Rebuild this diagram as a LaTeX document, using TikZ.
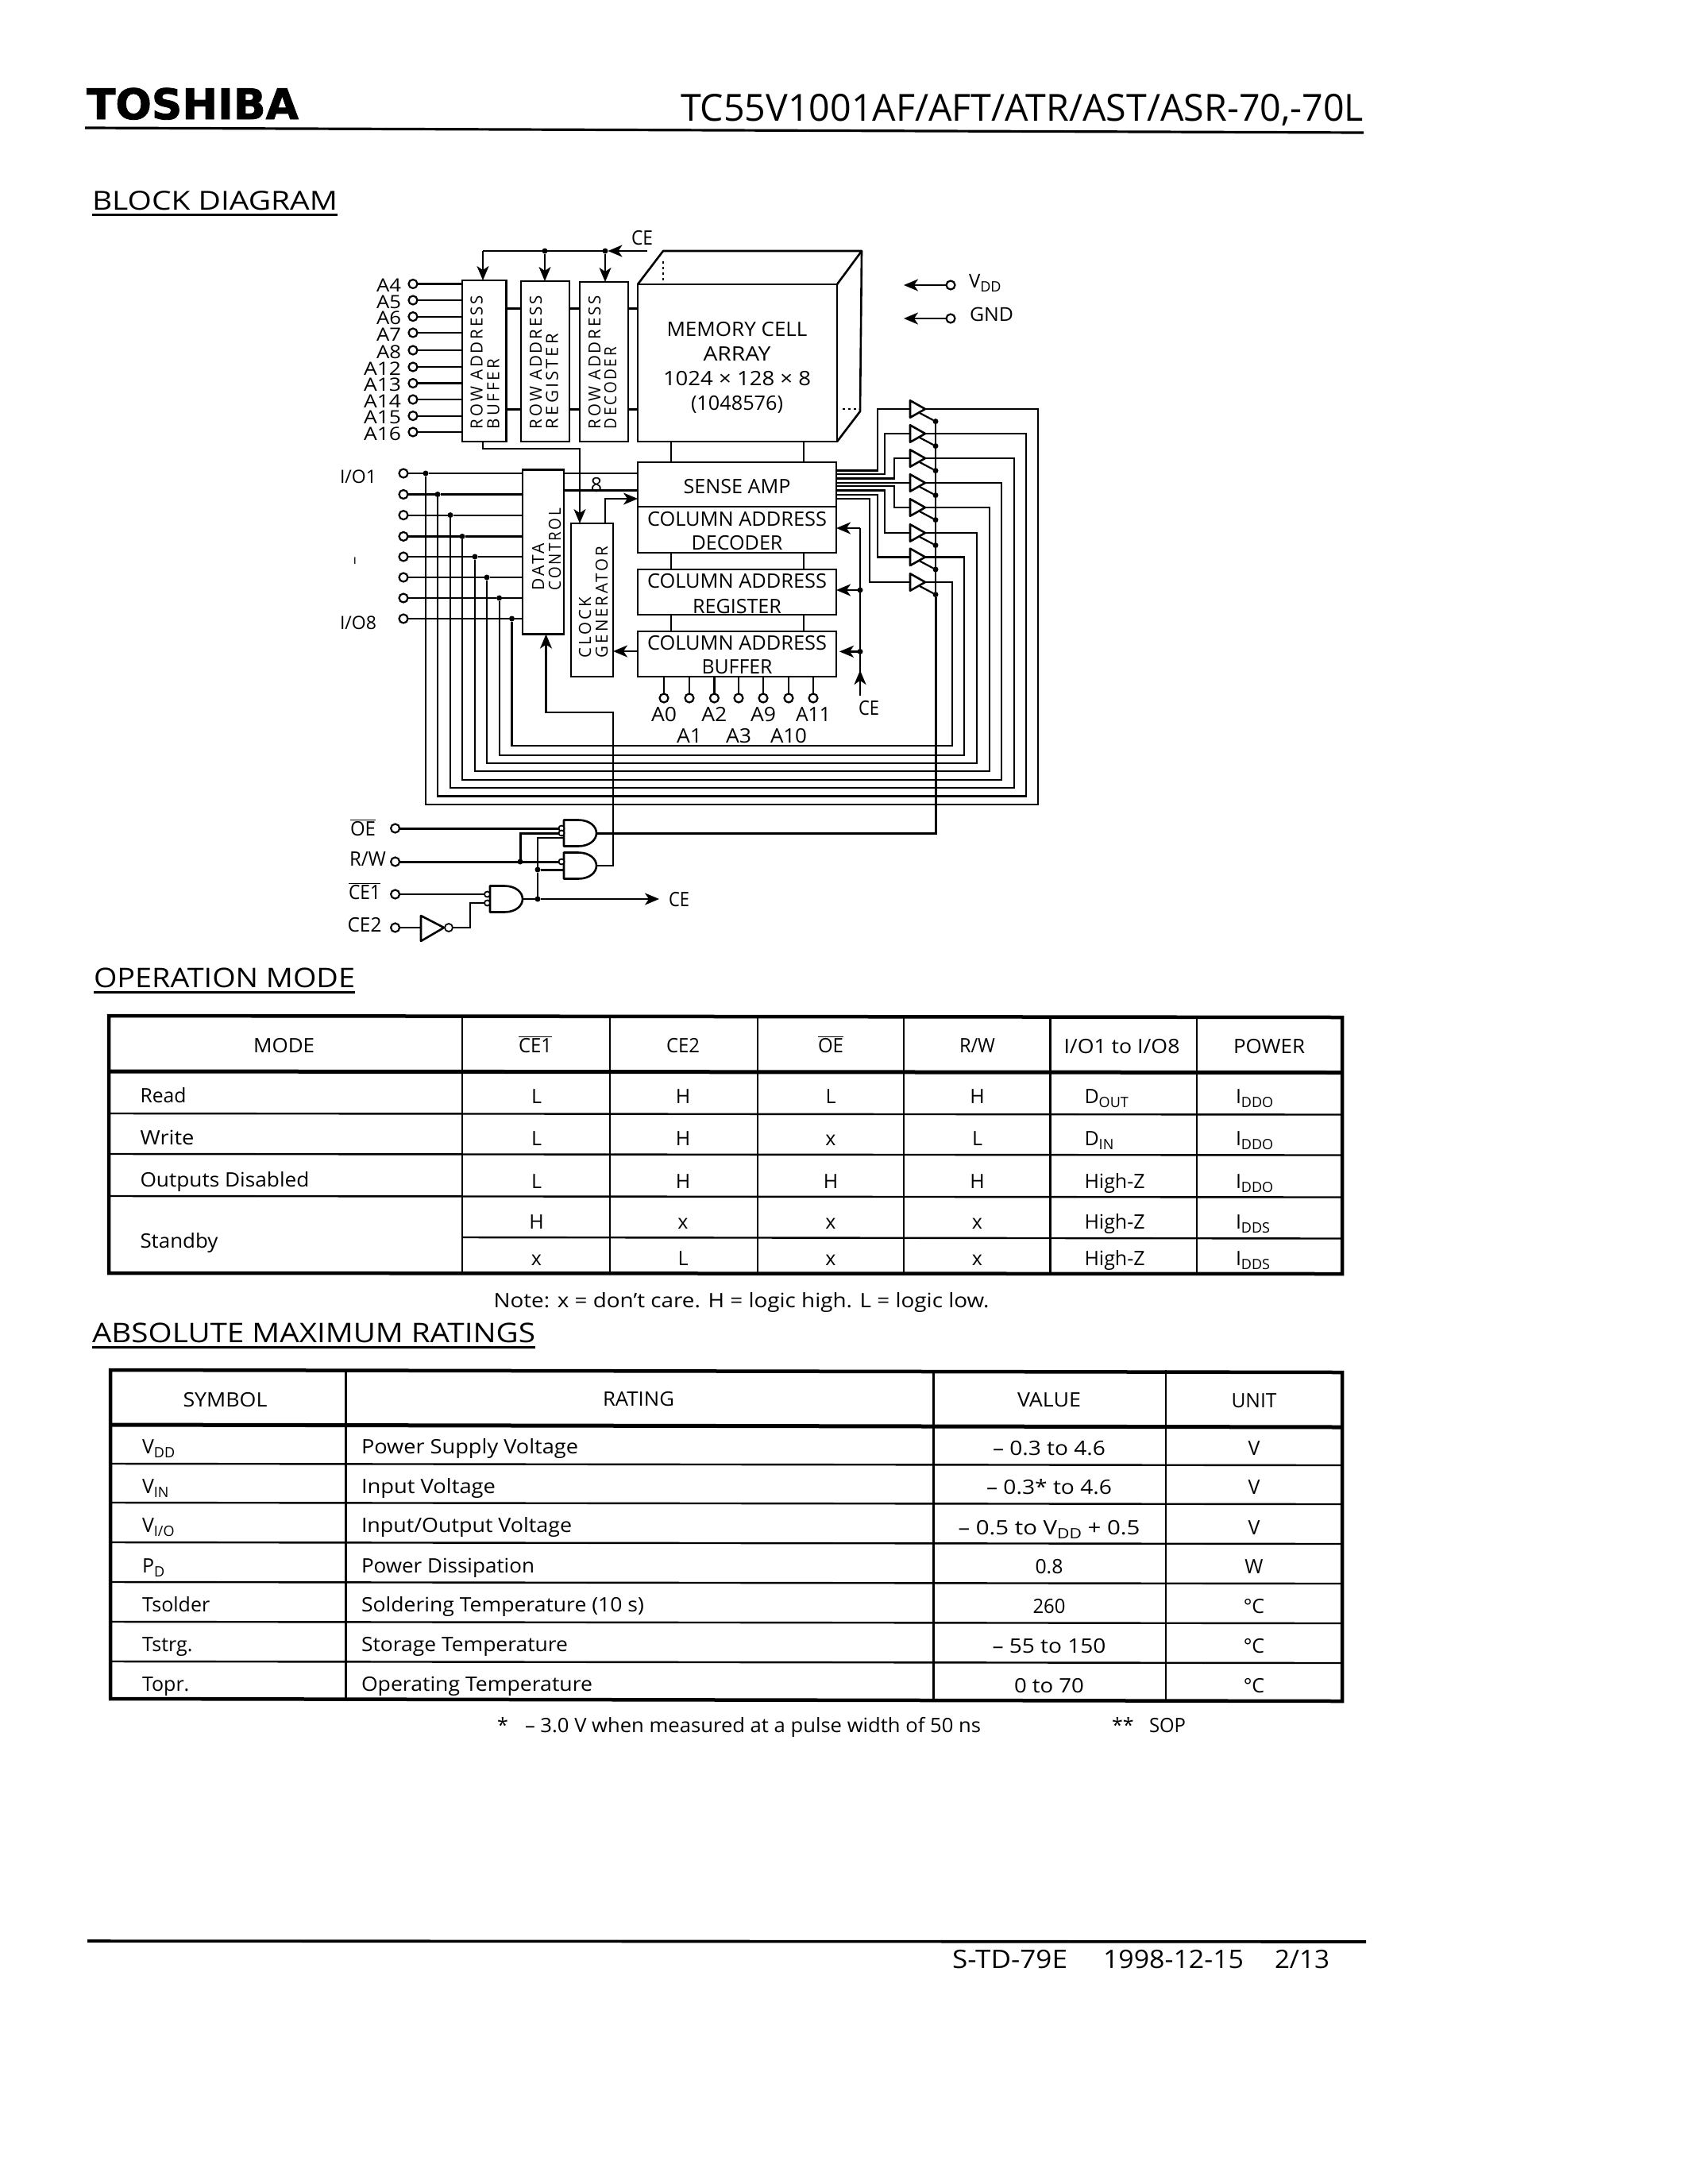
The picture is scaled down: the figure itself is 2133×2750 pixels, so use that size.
\documentclass[tikz,border=0pt]{standalone}
\usepackage{fontspec}
\usepackage{graphicx}
\usetikzlibrary{arrows.meta}
\setmainfont{Open Sans}
\newfontfamily\logofont{DejaVu Sans}[BoldFont={* Bold},BoldFeatures={FakeBold=1.6}]
\newcounter{lblc}
\newcommand{\fitw}[2]{\resizebox{#1pt}{\height}{#2}}
\newcommand{\fsz}[1]{\fontsize{#1}{#1}\selectfont}
% \txtn[options]{x}{baseline y}{text}
\newcommand{\txtn}[4][]{\stepcounter{lblc}\node[txtbase,#1] (lbl\arabic{lblc}) at (#2,#3) {#4};}
\newcommand{\dotn}[3]{\node[jdot] (#1) at (#2,#3) {};}
\newcommand{\bxn}[5]{\node[blockst,minimum width={#4-#2},minimum height={#5-#3}] (#1) at ({(#2+#4)/2},{(#3+#5)/2}) {};}
\newcommand{\subt}[1]{\raisebox{-5pt}{\fsz{18}#1}}
\newcommand{\ovl}[1]{$\overline{\mbox{#1}}$}
% \andg{name}{x left}{y centre}
\newcommand{\andg}[3]{%
  \draw[gatest] (#2,{#3-16.5}) -- ({#2+18},{#3-16.5}) .. controls ({#2+33},{#3-16.5}) and ({#2+41},{#3-8}) .. ({#2+41},#3)
    .. controls ({#2+41},{#3+8}) and ({#2+33},{#3+16.5}) .. ({#2+18},{#3+16.5}) -- (#2,{#3+16.5}) -- cycle;
  \coordinate (#1o) at ({#2+41},#3);}
\tikzset{
  x=1pt,y=-1pt,
  txtbase/.style={inner sep=0,outer sep=0,anchor=base,font=\fsz{25}},
  lft/.style={anchor=base west},
  rgt/.style={anchor=base east},
  vert/.style={rotate=90,anchor=base west,font={\fsz{21}\addfontfeature{LetterSpace=14}}},
  blockst/.style={draw,line width=2.6pt,inner sep=0,outer sep=0},
  wire/.style={line width=2.2pt},
  hwire/.style={line width=3pt},
  arr/.style={-{Stealth[length=18pt,width=15pt,inset=5pt]}},
  pinst/.style={circle,draw,fill=white,line width=2.2pt,minimum size=11pt,inner sep=0,outer sep=0},
  bubst/.style={circle,draw,fill=white,line width=1.8pt,minimum size=7pt,inner sep=0,outer sep=0},
  jdot/.style={circle,fill=black,minimum size=7pt,inner sep=0,outer sep=0},
  gatest/.style={line width=2.6pt,fill=white,line join=round},
  tblout/.style={line width=4.5pt,line cap=rect},
  tblhdr/.style={line width=5pt},
  tblin/.style={line width=2.4pt},
}
\begin{document}
\begin{tikzpicture}
\useasboundingbox (0,0) rectangle (2133,2750);
\fill[white] (0,0) rectangle (2133,2750);

% ---- page header
\txtn[lft,font={\logofont\bfseries\fsz{53}}]{109}{150}{\fitw{267}{TOSHIBA}}
\txtn[lft,font=\fsz{47}]{857}{152}{\fitw{860}{TC55V1001AF/AFT/ATR/AST/ASR-70,-70L}}
\draw[line width=3.2pt] (107,161) -- (1717,167);
\txtn[lft,font=\fsz{33}]{116}{264}{\fitw{309}{BLOCK DIAGRAM}}
\draw[line width=3pt] (116,270) -- (425,270);

% ---- row blocks
\bxn{rab}{582}{353}{637.5}{556}
\bxn{rar}{656}{354}{717}{556}
\bxn{rad}{730}{355}{791}{556}
\txtn[vert]{607.6}{540}{\fitw{168}{ROW ADDRESS}}
\txtn[vert]{628.6}{540}{\fitw{88}{BUFFER}}
\txtn[vert]{682}{540}{\fitw{168}{ROW ADDRESS}}
\txtn[vert]{702.7}{540}{\fitw{120}{REGISTER}}
\txtn[vert]{756}{540}{\fitw{168}{ROW ADDRESS}}
\txtn[vert]{776}{540}{\fitw{103}{DECODER}}

% ---- memory cell array
\bxn{mem}{803}{358}{1054}{556}
\coordinate (mb1) at (835,316);
\coordinate (mb2) at (1085,316);
\coordinate (mb3) at (1083,518);
\draw[line width=2.6pt,line join=round] (mem.north west) -- (mb1) -- (mb2) -- (mem.north east);
\draw[line width=2.6pt,line join=round] (mb2) -- (mb3) -- (mem.south east);
\draw[line width=2.4pt,dash pattern=on 3pt off 4pt] (835,329) -- (835,353);
\draw[line width=2.4pt,dash pattern=on 3pt off 4pt] (1061,515) -- (1079,515);
\txtn{928}{423}{\fitw{177}{MEMORY CELL}}
\txtn{928}{454}{\fitw{85}{ARRAY}}
\txtn{928}{485}{\fitw{186}{1024 × 128 × 8}}
\txtn{928}{516}{\fitw{116}{(1048576)}}

% ---- column blocks
\bxn{sa}{803}{582}{1053}{638}
\bxn{cad}{803}{638}{1053}{696}
\bxn{car}{803}{717}{1053}{774}
\bxn{cab}{803}{795}{1053}{852}
\txtn{928}{621}{\fitw{135}{SENSE AMP}}
\txtn{928}{662}{\fitw{226}{COLUMN ADDRESS}}
\txtn{928}{692.5}{\fitw{115}{DECODER}}
\txtn{928}{740}{\fitw{226}{COLUMN ADDRESS}}
\txtn{928}{772}{\fitw{112}{REGISTER}}
\txtn{928}{818}{\fitw{226}{COLUMN ADDRESS}}
\txtn{928}{848}{\fitw{89}{BUFFER}}
\foreach \x in {845,1012} {
  \draw[wire] (\x,556) -- (\x,582);
  \draw[wire] (\x,696) -- (\x,717);
  \draw[wire] (\x,774) -- (\x,795);
}

% ---- links between row blocks
\foreach \y in {388,515} {
  \draw[hwire] (637.5,\y) -- (656,\y);
  \draw[hwire] (717,\y) -- (730,\y);
  \draw[hwire] (791,\y) -- (803,\y);
}

% ---- CE bus on top
\txtn[lft]{795}{308}{\fitw{27}{CE}}
\coordinate (cetop) at (815,316);
\dotn{cej2}{762}{316}
\dotn{cej1}{686}{316}
\coordinate (cetl) at (608,316);
\draw[wire,arr] (cetop) -- (cej2);
\draw[wire] (cej2) -- (cetl);
\draw[wire,arr] (cetl) -- (cetl |- rab.north);
\draw[wire,arr] (cej1) -- (cej1 |- rar.north);
\draw[wire,arr] (cej2) -- (cej2 |- rad.north);

% ---- row address pins
\foreach \n/\y/\w in {A4/357.5/31,A5/378/31,A6/398.6/31,A7/419/31,A8/441/31,A12/462/47,A13/482.5/47,A14/503/47,A15/523.6/47,A16/544/47} {
  \node[pinst] (p\n) at (520,\y) {};
  \draw[wire] (p\n) -- (p\n -| rab.west);
  \txtn[rgt,font=\fsz{23}]{505}{\y+10}{\fitw{\w}{\n}}
}

% ---- data control and clock generator
\bxn{dc}{658}{591.4}{710}{798.6}
\bxn{cg}{719}{659}{772}{852}
\txtn[vert]{685}{743}{\fitw{59}{DATA}}
\txtn[vert]{706}{743}{\fitw{103}{CONTROL}}
\txtn[vert]{744}{828}{\fitw{76}{CLOCK}}
\txtn[vert]{765}{828}{\fitw{140}{GENERATOR}}

\coordinate (rabo) at (608,556);
\draw[wire,arr] (rabo) -- (608,565) -- (730,565) -- (730,659);
\draw[wire,arr] (762,659) -- (762,628) -- (803,628);
\draw[wire,arr] (cab.west |- 0,820) -- (cg.east |- 0,820);
\draw[wire] (710,596) -- (803,596);
\draw[hwire] (710,617.5) -- (803,617.5);
\txtn{751}{619}{8}

% ---- tri-state output buffers, sense amp fan-out, long return wires
\foreach \i/\ys/\xm/\yt/\xr/\yb/\xl/\yio in {
  1/592.5/1105/515/1307/1013/536/596,
  2/597/1114/546/1292/1002.5/551/622.5,
  3/602.5/1126/577/1277/992/567/648.6,
  4/608/1126/608/1261/982/582/675.4,
  5/612/1126/639/1246/971/598/701,
  6/617.5/1114/671/1230/961/613/727,
  7/623/1105/701.4/1214/951/628.6/753,
  8/628/1095/733/1199/939/644.5/779} {
  \coordinate (ti\i) at (1146,\yt);
  \coordinate (to\i) at (1165,\yt);
  \coordinate (sp\i) at (1053,\ys);
  \draw[wire] (sp\i) -- (\xm,\ys) -- (\xm,\yt) -- (ti\i);
  \draw[gatest,fill=white] (1146,{\yt-10.7}) -- (to\i) -- (1146,{\yt+10.7}) -- cycle;
  \dotn{dio\i}{\xl}{\yio}
  \node[pinst] (pio\i) at (508,\yio) {};
  \draw[wire] (pio\i) -- (dio\i) -- (dio\i -| dc.west);
  \draw[wire] (to\i) -- (\xr,\yt) -- (\xr,\yb) -- (\xl,\yb) -- (dio\i);
  \coordinate (te\i) at (1158,{\yt+5});
  \dotn{den\i}{1178}{\yt+15.6}
  \draw[wire] (te\i) -- (den\i);
}
\txtn[lft,font=\fsz{23}]{428}{608.6}{\fitw{46}{I/O1}}
\txtn[lft,font=\fsz{23}]{428}{792}{\fitw{46}{I/O8}}
\txtn[font=\fsz{16}]{447}{710}{ı}

% ---- CE branch for column blocks
\coordinate (cebot) at (1083,876);
\coordinate (cecol) at (1083,665);
\dotn{cecr}{1083}{743}
\dotn{cecb}{1083}{820.4}
\draw[wire,arr] (cebot) -- (1083,844);
\draw[wire] (cebot) -- (cecol);
\draw[wire,arr] (cecol) -- (cecol -| cad.east);
\draw[wire,arr] (cecr) -- (cecr -| car.east);
\draw[wire,arr] (cecb) -- ++(-26,0);
\txtn[lft]{1081}{900}{\fitw{26}{CE}}

% ---- column address pins
\foreach \n/\x/\b/\w in {A0/836/908/32,A1/868/935/32,A2/899.4/908/32,A3/930/935/32,A9/961/908/32,A10/993/935/46,A11/1024/908/44} {
  \node[pinst] (p\n) at (\x,879) {};
  \draw[wire] (p\n) -- (p\n |- cab.south);
  \txtn{\x}{\b}{\fitw{\w}{\n}}
}

% ---- VDD / GND
\node[pinst] (pvdd) at (1197,359) {};
\node[pinst] (pgnd) at (1197,401) {};
\coordinate (avdd) at (1138,359);
\coordinate (agnd) at (1138,401);
\draw[wire,arr] (pvdd) -- (avdd);
\draw[wire,arr] (pgnd) -- (agnd);
\txtn[lft,font=\fsz{24}]{1220}{362}{V\subt{DD}}
\txtn[lft,font=\fsz{24}]{1221}{404}{\fitw{55}{GND}}

% ---- control logic
\andg{g1}{710}{1049}
\andg{g2}{710}{1090}
\andg{g3}{617}{1132}
\node[pinst] (poe) at (497.6,1043) {};
\node[pinst] (prw) at (497.6,1085) {};
\node[pinst] (pce1) at (497.6,1126) {};
\node[pinst] (pce2) at (497.6,1168) {};
\txtn{457}{1052}{\fitw{32}{\ovl{OE}}}
\txtn{463}{1090}{\fitw{46}{R/W}}
\txtn{459}{1132}{\fitw{40}{\ovl{CE1}}}
\txtn{459}{1173}{\fitw{43}{CE2}}
\node[bubst] (b1a) at (707,1043) {};
\node[bubst] (b1b) at (707,1049) {};
\node[bubst] (b2a) at (707,1085) {};
\node[bubst] (b3a) at (613.5,1126) {};
\node[bubst] (b3b) at (613.5,1137) {};
\draw[hwire] (poe) -- (b1a);
\draw[hwire] (prw) -- (b2a);
\dotn{jrw}{655}{1085}
\draw[hwire] (jrw) -- (655,1049) -- (b1b);
\dotn{jce}{677}{1132}
\dotn{jce2}{677}{1095}
\draw[wire] (pce1) -- (b3a);
\draw[wire] (jce) -- (jce2) -- (677,1055) -- (710,1055);
\draw[hwire] (jce2) -- (710,1095);
\draw[wire] (g3o) -- (jce);
\coordinate (ceout) at (830,1132);
\draw[wire,arr] (jce) -- (ceout);
\txtn[lft]{842}{1141}{\fitw{26}{CE}}
\coordinate (invi) at (530,1168);
\coordinate (invo) at (559,1168);
\draw[gatest] (530,1153) -- (invo) -- (530,1185) -- cycle;
\node[bubst,minimum size=10pt] (binv) at (565,1168) {};
\draw[wire] (pce2) -- (invi);
\draw[wire] (binv) -- (592,1168) -- (592,1137) -- (b3b);
% gate outputs
\draw[hwire] (g1o) -- (1178,1049) -- (den8);
\draw[wire] (den1) -- (den8);
\draw[wire] (g2o) -- (772,1090) -- (772,897) -- (687.5,897) -- (687.5,830);
\draw[wire,arr] (687.5,830) -- (dc.south -| 687.5,0);

% ---- OPERATION MODE
\txtn[lft,font=\fsz{34}]{118}{1243}{\fitw{329}{OPERATION MODE}}
\draw[line width=3pt] (118,1249) -- (447,1249);
\coordinate (t1nw) at (137,1279);
\coordinate (t1se) at (1690,1604);
\foreach \y in {1402,1453,1506} {\draw[tblin] (137,\y) -- (1690,\y+1.5);}
\draw[tblhdr] (137,1349) -- (1690,1350.5);
\draw[tblin] (582,1558) -- (1690,1559.5);
\foreach \x in {582,768,954,1138,1322.6,1507} {\draw[tblin] (\x,1279) -- (\x,1604);}
\draw[tblout] (137,1279) -- (1690,1281) -- (1690,1604) -- (137,1603) -- cycle;

\foreach \x/\t/\w in {357.6/MODE/77,674/\ovl{CE1}/42,860/CE2/42,1046/\ovl{OE}/32,1230.5/{R/W}/45} {\txtn{\x}{1325}{\fitw{\w}{\t}}}
\txtn{1412.5}{1326}{\fitw{146}{I/O1 to I/O8}}
\txtn{1598}{1326}{\fitw{90}{POWER}}
\txtn[lft]{176.5}{1388}{\fitw{58}{Read}}
\txtn[lft]{176.5}{1441}{\fitw{68}{Write}}
\txtn[lft]{176.5}{1494}{\fitw{213}{Outputs Disabled}}
\txtn[lft]{176.5}{1571}{\fitw{98}{Standby}}
\foreach \y/\a/\b/\c/\d/\e/\f in {
  1389/L/H/L/H/D\subt{OUT}/I\subt{DDO},
  1442/L/H/x/L/D\subt{IN}/I\subt{DDO},
  1496/L/H/H/H/High-Z/I\subt{DDO},
  1547/H/x/x/x/High-Z/I\subt{DDS},
  1593/x/L/x/x/High-Z/I\subt{DDS}} {
  \txtn{675.5}{\y}{\a}
  \txtn{860}{\y}{\b}
  \txtn{1046}{\y}{\c}
  \txtn{1230.5}{\y}{\d}
  \txtn[lft]{1365.5}{\y}{\e}
  \txtn[lft]{1556}{\y}{\f}
}
\txtn[lft]{621.5}{1646}{\fitw{624}{Note: x = don't care. H = logic high. L = logic low.}}

% ---- ABSOLUTE MAXIMUM RATINGS
\txtn[lft,font=\fsz{34}]{116}{1690}{\fitw{558}{ABSOLUTE MAXIMUM RATINGS}}
\draw[line width=3pt] (116,1696) -- (674,1696);
\draw[tblhdr] (139,1794) -- (1690,1797);
\foreach \y in {1843,1892,1942,1992,2042,2092} {\draw[tblin] (139,\y) -- (1690,\y+2);}
\foreach \x in {435.5,1175.6,1468} {\draw[tblin] (\x,1725) -- (\x,2141);}
\draw[tblout] (139,1725) -- (1690,1728) -- (1690,2142) -- (139,2139) -- cycle;
\txtn{283.5}{1771}{\fitw{106}{SYMBOL}}
\txtn{804}{1770}{\fitw{90}{RATING}}
\txtn{1321}{1771}{\fitw{80}{VALUE}}
\txtn{1579}{1772}{\fitw{57}{UNIT}}
\foreach \ys/\yv/\s/\r/\rw/\v/\vw/\u in {
  1830/1832/V\subt{DD}/Power Supply Voltage/273/{– 0.3 to 4.6}/142/V,
  1880/1881/V\subt{IN}/Input Voltage/169/{– 0.3* to 4.6}/158/V,
  1929/1932/{V\subt{I/O}}/{Input/Output Voltage}/265/{– 0.5 to V\subt{DD} + 0.5}/229/V,
  1980/1981/P\subt{D}/Power Dissipation/218/0.8/35/W,
  2029/2031/Tsolder/Soldering Temperature (10 s)/356/260/41/°C,
  2079/2081/Tstrg./Storage Temperature/260/{– 55 to 150}/143/°C,
  2129/2131/Topr./Operating Temperature/291/0 to 70/88/°C} {
  \txtn[lft]{179}{\ys}{\s}
  \txtn[lft]{455}{\ys}{\fitw{\rw}{\r}}
  \txtn{1321}{\yv}{\fitw{\vw}{\v}}
  \txtn{1579}{\yv}{\u}
}
\txtn[lft]{626}{2181}{*}
\txtn[lft]{661}{2181}{\fitw{574}{– 3.0 V when measured at a pulse width of 50 ns}}
\txtn[lft]{1400}{2181}{**}
\txtn[lft]{1447}{2181}{\fitw{46}{SOP}}

% ---- footer
\draw[line width=3.6pt] (110,2444) -- (1720,2445);
\txtn[lft,font=\fsz{32}]{1199}{2478}{\fitw{145}{S-TD-79E}}
\txtn[lft,font=\fsz{32}]{1389}{2478}{\fitw{177}{1998-12-15}}
\txtn[lft,font=\fsz{32}]{1605}{2478}{\fitw{69}{2/13}}
\end{tikzpicture}
\end{document}
